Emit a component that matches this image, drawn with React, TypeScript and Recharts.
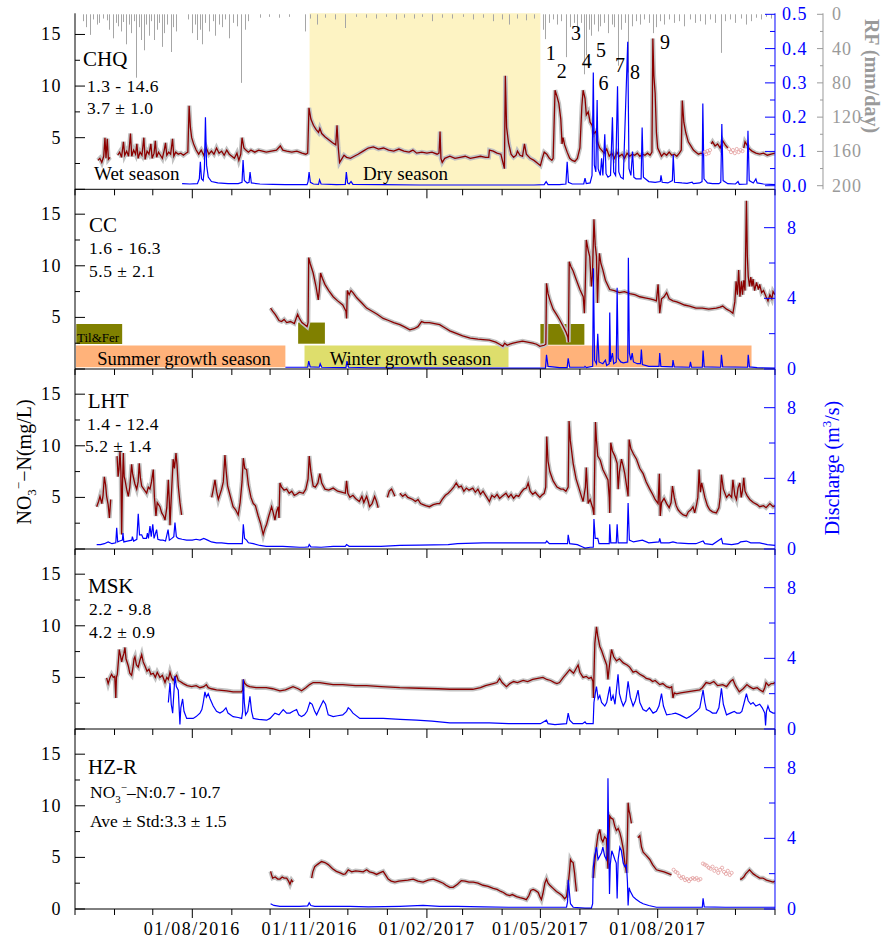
import React from 'react'
import { ComposedChart, Line, Bar, XAxis, YAxis, ReferenceArea } from 'recharts'

type P = [number, number | null]

// day 0 = 01/05/2016, day 549 = 01/11/2017
const monthTicks = [0, 31, 61, 92, 123, 153, 184, 214, 245, 276, 304, 335, 365, 396, 426, 457, 488, 518, 549]
const labelDays = [92, 184, 276, 365, 457]
const labelTexts = ['01/08/2016', '01/11/2016', '01/02/2017', '01/05/2017', '01/08/2017']
const leftTicks = [0, 2.5, 5, 7.5, 10, 12.5, 15]
const qTicks = [0, 2, 4, 6, 8]
const q1Ticks = [0, 0.05, 0.1, 0.15, 0.2, 0.25, 0.3, 0.35, 0.4, 0.45, 0.5]
const rfTicks = [0, 20, 40, 60, 80, 100, 120, 140, 160, 180, 200]

// daily rainfall (mm/day), only rain days
const rain: P[] = [
  [6, 8], [9, 15], [12, 24], [14, 6], [17, 12], [19, 10], [22, 5], [25, 7], [27, 18], [30, 28], [32, 10], [34, 14],
  [36, 20], [38, 9], [40, 35], [42, 12], [44, 22], [46, 8], [48, 74], [50, 15], [52, 30], [54, 42], [56, 12], [58, 25],
  [60, 8], [62, 30], [64, 18], [66, 10], [68, 38], [70, 22], [72, 12], [75, 44], [77, 15], [79, 20],
  [89, 6], [92, 22], [94, 12], [96, 30], [98, 18], [100, 35], [102, 10], [105, 20], [108, 8], [110, 25], [113, 12],
  [115, 15], [118, 6], [121, 28], [124, 10], [127, 14], [130, 80], [133, 18], [136, 8], [145, 4], [152, 3], [160, 4], [168, 3],
  [180, 20], [184, 5], [190, 12], [196, 4], [204, 6], [212, 16], [220, 3], [228, 4], [236, 5], [244, 3], [252, 6], [258, 4],
  [266, 5], [272, 3], [280, 8], [288, 4], [296, 5], [304, 3], [312, 6], [320, 4], [328, 8], [335, 6], [340, 12], [347, 5],
  [354, 7], [360, 5],
  [367, 18], [369, 29], [372, 10], [375, 6], [378, 12], [381, 8], [385, 50], [388, 15], [391, 10], [394, 20], [397, 10],
  [399, 70], [401, 48], [403, 18], [405, 25], [407, 12], [410, 20], [412, 14], [415, 10], [418, 22], [421, 12], [423, 15],
  [426, 60], [428, 18], [431, 10], [434, 68], [437, 14], [440, 8], [443, 12], [446, 6], [450, 10], [453, 22], [456, 15],
  [459, 8], [462, 12], [466, 6], [470, 10], [474, 8], [478, 14], [482, 6], [486, 10], [490, 8], [494, 12], [498, 6],
  [502, 10], [507, 45], [510, 8], [514, 6], [518, 10], [522, 5], [526, 12], [530, 8], [534, 4], [538, 6], [542, 3], [546, 5],
]

const chqNo3: P[] = [
  [18, 2.8], [19.5, 3.0], [21, 2.6], [22.5, 3.2], [23.5, 5.0], [24.3, 3.0], [25.3, 4.9], [26.2, 2.9], [27.5, 3.1], [28.5, null],
  [33.5, 3.3], [35, 3.6], [36.5, 3.1], [38, 4.6], [39, 3.3], [40.5, 3.7], [42, 3.2], [43.5, 5.4], [44.5, 3.2], [46, 3.8],
  [47.5, 3.4], [48.5, 4.4], [49.5, 3.0], [51, 3.6], [52.5, 3.3], [54, 5.0], [55, 2.9], [56.5, 3.7], [58, 3.4], [59.5, 4.4],
  [60.5, 3.0], [62, 3.5], [63, 4.7], [64, 3.1], [65.5, 3.6], [67, 3.3], [68.5, 3.0], [70, 3.8], [71, 4.5], [72, 3.3],
  [73.5, 3.6], [75, 3.4], [76.5, 4.9], [77.5, 3.2], [79, 3.6], [81, 3.4], [83, 3.5], [85, 3.3], [87, 3.5], [88.5, 3.6],
  [89.5, 8.1], [90.5, 6.0], [91.5, 5.0], [93, 4.4], [95, 3.8], [97, 3.4], [99, 3.8], [101, 3.3], [103, 4.0], [105, 3.4],
  [107, 3.7], [109, 3.4], [111, 4.0], [113, 3.5], [115, 3.7], [117, 3.3], [119, 3.8], [121, 3.4], [123, 3.2], [125, 3.0],
  [127, 3.5], [128.5, 2.8], [130, 3.4], [131, 5.0], [132.5, 4.0], [134, 3.8], [136, 3.6], [138, 3.8], [141, 3.6], [144, 3.8],
  [147, 3.7], [150, 3.6], [154, 3.7], [158, 3.8], [161, 4.2], [163, 3.8], [166, 3.7], [170, 3.6], [174, 3.7], [178, 3.5],
  [181, 3.4], [182.5, 3.5], [183.5, 7.9], [185, 6.8], [187, 6.2], [189, 5.8], [191, 5.5], [192, 5.9], [193.5, 5.4], [196, 5.1],
  [199, 4.8], [202, 4.5], [204.5, 4.3], [205.5, 6.2], [206.5, 4.0], [207.5, 2.6], [209, 2.9], [211, 3.3], [213, 3.1], [216, 3.0],
  [219, 3.2], [222, 3.4], [226, 3.7], [230, 4.0], [234, 4.1], [238, 3.9], [242, 4.0], [246, 3.8], [250, 3.7], [254, 3.9],
  [258, 3.7], [262, 3.6], [265, 3.8], [268, 3.5], [272, 3.6], [276, 3.5], [280, 3.6], [284, 3.4], [285.5, 3.5], [286.3, 5.6],
  [287, 3.0], [288, 2.6], [290, 3.0], [294, 3.2], [298, 3.0], [302, 3.1], [306, 3.2], [310, 3.0], [314, 3.1], [318, 3.2],
  [322, 3.1], [324.5, 3.1], [325, 3.8], [328, 3.7], [331, 3.5], [334, 3.4], [336, 2.4], [336.8, 2.0], [337.5, 11.0], [338.5, 6.0],
  [340, 4.5], [342, 3.4], [344, 3.1], [346, 3.3], [347, 3.7], [349, 3.3], [351, 3.2], [352.5, 4.4], [354, 3.4], [357, 3.0],
  [360, 2.8], [363, 2.5], [365, 2.3], [366.5, 3.0], [368, 3.6], [370, 3.4], [372, 3.0], [374, 2.8], [375, 3.0], [376.5, 9.6],
  [378, 9.0], [379.5, 8.3], [381, 6.8], [382, 4.4], [382.8, 5.0], [384, 4.3], [386, 3.6], [388, 3.0], [390, 2.8], [392, 2.7],
  [394, 3.0], [396, 4.0], [397.5, 8.0], [398.5, 9.6], [400, 8.8], [401, 7.2], [402.5, 7.5], [404, 6.5], [405.5, 6.2], [407, 5.4],
  [408.5, 5.6], [410, 4.5], [411.5, 4.0], [413, 3.8], [415, 3.5], [417, 3.9], [419, 3.2], [421, 3.5], [423, 3.0], [425, 3.6],
  [427, 3.2], [429, 3.4], [431, 3.0], [433, 3.5], [435, 3.2], [437, 3.4], [439, 3.3], [441, 3.5], [443, 3.2], [445, 3.4],
  [447, 3.3], [449, 3.5], [451, 3.3], [452.5, 3.6], [453.2, 14.6], [454, 11], [455, 9.3], [456, 5.5], [457, 4.0], [458.5, 3.6],
  [460, 3.2], [462, 3.5], [464, 3.3], [466, 3.6], [468, 3.3], [470, 3.4], [472, 3.2], [474, 3.5], [475.5, 3.8], [476.3, 8.6],
  [477.5, 6.5], [479, 5.5], [481, 4.6], [483, 4.2], [485, 3.8], [487, 3.6], [489, 3.4], [491, 3.5], [493, 3.4], [494, null],
  [499, 4.4], [500, 4.6], [502, 4.2], [504, 4.4], [506, 4.0], [508, 4.7], [510, 4.3], [512, 4.0], [513, null],
  [524.5, 4.0], [525.5, 4.6], [527, 4.3], [529, 3.9], [531, 3.7], [534, 3.5], [537, 3.4], [540, 3.5], [543, 3.3], [546, 3.4], [549, 3.5],
]
const chqPink: P[] = [
  [494, 3.6], [495, 3.4], [496, 3.7], [497, 3.5], [498, 3.8],
  [513, 3.9], [514.5, 3.6], [516, 3.8], [517.5, 3.5], [519, 3.9], [520.5, 3.6], [522, 3.8], [523.5, 3.7],
]
const chqQ: P[] = [
  [84, 0.006], [90, 0.005], [96, 0.006], [97.5, 0.02], [98.3, 0.07], [99.2, 0.02], [100.5, 0.015], [101.5, 0.05], [102.3, 0.2],
  [103.2, 0.06], [104.5, 0.025], [107, 0.012], [112, 0.008], [120, 0.006], [128, 0.006], [131, 0.01], [131.8, 0.075], [132.8, 0.015],
  [135, 0.008], [136.5, 0.01], [137.3, 0.04], [138.3, 0.008], [145, 0.005], [155, 0.004], [165, 0.003], [175, 0.003], [182, 0.003],
  [182.8, 0.012], [183.6, 0.04], [184.6, 0.01], [187, 0.005], [191, 0.004], [191.8, 0.017], [193, 0.005], [205, 0.003], [212, 0.004],
  [212.8, 0.04], [213.8, 0.008], [215, 0.005], [216.5, 0.012], [218, 0.004], [240, 0.003], [270, 0.002], [300, 0.002], [330, 0.002],
  [360, 0.002], [368, 0.003], [369.5, 0.012], [371, 0.003], [380, 0.003], [385, 0.005], [386, 0.07], [387, 0.01], [390, 0.005],
  [399, 0.005], [400, 0.022], [401, 0.006], [404, 0.008], [405.5, 0.03], [406.5, 0.33], [407.3, 0.06], [408.5, 0.04], [409.5, 0.25],
  [410.3, 0.05], [412, 0.03], [413, 0.08], [414, 0.03], [415.5, 0.15], [416.5, 0.035], [418, 0.025], [420, 0.03], [421.5, 0.2],
  [422.5, 0.04], [424, 0.03], [425.5, 0.29], [426.5, 0.04], [428, 0.025], [430, 0.02], [433.5, 0.42], [434.5, 0.05], [436, 0.03],
  [437.3, 0.1], [438.3, 0.025], [440, 0.02], [444, 0.02], [444.8, 0.17], [445.8, 0.025], [450, 0.012], [455, 0.01], [459, 0.012],
  [459.6, 0.03], [460.5, 0.01], [465, 0.008], [468.5, 0.015], [469.2, 0.09], [470.2, 0.01], [476, 0.008], [480, 0.007], [484, 0.01],
  [485, 0.006], [490, 0.008], [491.8, 0.012], [492.4, 0.24], [493.3, 0.02], [496, 0.008], [500, 0.006], [505, 0.006], [506.5, 0.01],
  [507.3, 0.18], [508.3, 0.015], [512, 0.006], [518, 0.005], [520, 0.012], [521, 0.004], [527, 0.005], [527.8, 0.16], [528.8, 0.015],
  [532, 0.008], [534, 0.02], [535, 0.008], [540, 0.005], [549, 0.003],
]

const ccNo3: P[] = [
  [153.4, 5.9], [155, 5.6], [157, 5.3], [158.5, 5.0], [160, 4.7], [162, 4.6], [164, 4.8], [166, 4.5], [169, 4.6], [172, 4.4],
  [174.6, 5.3], [176, 4.9], [178, 4.5], [180, 4.3], [182, 4.1], [182.8, 4.5], [183.3, 10.8], [184.5, 10.2], [186.8, 9.3], [189, 8.0],
  [190.8, 6.7], [191.5, 7.5], [192.6, 9.3], [194, 8.8], [196, 8.2], [199, 7.6], [202.5, 7.0], [206, 6.6], [210, 6.2], [212.5, 5.6],
  [213, 4.9], [213.6, 7.6], [215, 7.2], [216.5, 7.6], [218, 7.4], [221, 6.9], [225, 6.4], [228.7, 5.9], [233, 5.6], [237, 5.3],
  [241.7, 4.9], [246, 4.7], [250, 4.5], [254.8, 4.3], [258, 4.1], [262.6, 3.8], [266, 3.9], [269, 4.1], [271.8, 4.6], [274, 4.5],
  [278, 4.5], [282, 4.4], [286, 4.3], [290, 4.0], [294, 3.7], [298, 3.5], [304, 3.2], [310, 3.0], [316, 2.9], [320, 2.85],
  [325, 2.8], [330, 2.6], [333, 2.4], [335.6, 2.2], [337, 2.5], [339, 2.3], [341, 2.4], [343.6, 2.5], [347, 2.6], [351, 2.7],
  [355, 2.6], [359, 2.5], [362, 2.4], [364.6, 2.2], [368, 2.3], [369.3, 2.4], [369.8, 8.3], [371, 7.3], [372.4, 6.7], [375, 5.8],
  [377.6, 5.3], [380, 4.8], [383, 4.1], [385, 3.6], [386.5, 3.1], [387, 2.6], [387.6, 10.4], [389, 9.9], [390.7, 9.5], [393, 8.7],
  [396, 7.7], [398.6, 7.0], [399.5, 5.4], [400.2, 8.0], [401, 12.5], [402.5, 11.5], [403.7, 10.9], [405, 8.0], [405.8, 9.0], [407, 14.5],
  [408, 12.0], [409, 10.9], [409.8, 6.4], [410.5, 9.0], [411.3, 11.2], [412.5, 10.2], [414, 9.6], [416, 8.6], [419.4, 7.7], [423, 7.6],
  [427, 7.4], [431, 7.5], [435, 7.3], [439, 7.2], [443, 7.0], [447, 6.9], [451, 6.8], [454, 6.7], [456, 6.6], [457.3, 8.2],
  [458.6, 5.4], [460, 6.8], [462, 7.0], [464, 7.4], [466, 6.8], [469, 6.6], [472, 6.5], [474, 6.4], [478, 6.2], [482, 6.1],
  [487, 5.9], [492, 5.9], [497, 5.8], [503, 5.9], [506, 6.0], [508, 6.1], [511, 5.8], [514, 5.6], [516, 5.4], [517.5, 6.5],
  [518.5, 8.5], [519.5, 7.2], [520.5, 9.6], [521.5, 7.0], [522.7, 8.5], [523.5, 7.2], [524.5, 8.6], [525.5, 7.6], [526.6, 16.3], [527.3, 11],
  [528, 9.0], [529, 8.0], [530, 8.9], [531, 8.0], [531.8, 8.7], [533, 7.6], [534.5, 8.4], [536, 7.7], [537, 8.2], [538.5, 7.4],
  [540, 7.6], [542, 7.0], [543.5, 6.6], [545, 7.2], [546.5, 6.8], [547.5, 7.5], [549, 7.2],
]
const ccQ: P[] = [
  [165, 0.1], [175, 0.1], [182.5, 0.1], [183.3, 0.45], [184.5, 0.12], [191.5, 0.1], [192.3, 0.3], [193.5, 0.1], [212.5, 0.08],
  [213.3, 0.45], [214.5, 0.1], [230, 0.07], [260, 0.06], [300, 0.05], [340, 0.05], [369, 0.05], [369.8, 0.8], [371, 0.15], [380, 0.08],
  [386, 0.08], [386.8, 0.6], [388, 0.1], [399.5, 0.1], [400, 0.15], [401, 0.08], [406, 0.15], [406.6, 5.7], [407.5, 0.5], [409, 0.3],
  [410, 2.0], [411, 0.4], [414, 0.3], [416, 0.5], [417, 0.2], [419, 0.3], [419.4, 3.2], [420, 0.4], [421.5, 0.9], [422.5, 0.3],
  [424.5, 0.4], [425.2, 4.6], [426, 0.6], [428, 0.4], [430, 0.35], [433.5, 0.4], [434, 6.3], [434.8, 0.9], [436, 0.5], [437, 0.9],
  [438, 0.4], [441, 0.3], [443.5, 0.3], [444.2, 1.1], [445, 0.25], [450, 0.15], [458, 0.15], [458.6, 0.9], [459.5, 0.15], [468.5, 0.12],
  [469, 0.5], [470, 0.12], [482, 0.1], [482.7, 0.4], [483.5, 0.1], [492, 0.1], [492.6, 1.05], [493.5, 0.12], [506.4, 0.1], [507, 0.8],
  [508, 0.12], [527.5, 0.1], [528, 0.8], [529, 0.12], [535, 0.08], [549, 0.05],
]

const lhtNo3: P[] = [
  [17, 4.1], [18.5, 4.6], [19.6, 5.1], [21, 4.4], [22, 5.2], [23, 7.0], [24, 6.2], [24.8, 5.1], [26, 4.3], [27, 3.0], [28, 4.8], [28.8, null],
  [33, 9.0], [33.8, 7.0], [34.5, 7.7], [35.3, 9.5], [36, 7.5], [36.6, 1.4], [37.2, 6.0], [37.9, 9.3], [38.6, 7.0], [39.2, 6.7],
  [40.5, 5.8], [41.8, 5.1], [43, 6.0], [44.4, 8.2], [45.2, 7.3], [45.7, 7.0], [47, 6.3], [48.4, 5.8], [49.5, 6.5], [50.4, 8.3],
  [51.3, 6.9], [52.3, 6.1], [54, 5.8], [56.2, 5.4], [57.5, 6.0], [58.8, 5.8], [60, 6.5], [61.4, 7.7], [62.3, 5.0], [63.5, 3.2],
  [64.5, 4.5], [66.6, 4.1], [68, 3.5], [69.5, 3.2], [70.6, 2.8], [72, 4.0], [73.2, 6.7], [74, 4.5], [74.5, 2.3], [75.5, 5.0],
  [77, 8.7], [78, 7.8], [79.2, 9.3], [80, 8.2], [81, 6.1], [82.3, 4.5], [83.6, 3.3], [84, null],
  [107.2, 5.0], [108.5, 5.8], [109.8, 6.7], [111, 5.6], [112.4, 4.8], [113.7, 5.3], [115, 5.8], [116.3, 6.5], [117.6, 9.1], [118.6, 7.5],
  [119.7, 6.1], [121, 5.5], [122.5, 4.8], [124, 4.1], [126, 3.8], [128, 3.3], [129.5, 4.5], [131, 6.5], [132, 8.8], [133.2, 7.8],
  [134.6, 7.7], [136, 6.2], [138, 5.0], [139.8, 4.4], [141.5, 4.2], [143.7, 3.2], [145.5, 2.5], [147.6, 1.4], [149, 2.0], [150.3, 2.4],
  [152, 3.2], [154.2, 4.1], [155.5, 3.5], [156.8, 2.8], [158, 3.6], [159.4, 4.1], [160, 3.0], [160.7, 6.4], [162, 6.0], [164, 5.7],
  [166, 5.8], [168, 5.4], [170, 5.6], [172, 5.2], [173.8, 5.3], [176, 5.5], [179, 5.4], [181, 5.8], [182.8, 6.8], [183.7, 9.0],
  [185, 7.5], [186.8, 6.1], [188.5, 6.0], [190.5, 6.4], [192, 7.3], [193.5, 6.4], [196, 5.8], [199, 5.7], [202.5, 5.9], [206, 5.6],
  [209, 5.5], [212, 5.4], [213, 6.6], [214, 5.4], [215.6, 5.0], [218, 5.2], [220, 4.9], [223, 4.6], [225, 5.1], [226.5, 4.5],
  [228.7, 5.1], [230, 4.6], [231, 4.1], [233, 4.4], [235, 5.1], [236.5, 4.6], [237.8, 4.0], [238.5, null],
  [245, 5.0], [246.5, 5.6], [248.3, 5.8], [249.5, 5.5], [250.9, 5.1], [251.5, null],
  [254.8, 5.4], [257, 5.1], [259, 5.3], [261, 5.0], [263, 4.9], [265, 4.8], [267, 4.6], [269, 4.8], [271, 4.4], [273, 4.3],
  [275, 4.2], [278, 4.1], [281, 4.3], [284, 4.4], [286, 4.4], [288, 4.8], [290.5, 5.2], [292.7, 5.4], [295, 5.7], [297, 6.0],
  [299, 6.4], [301, 6.0], [303, 6.1], [305, 5.6], [307, 5.9], [309, 5.7], [312, 5.9], [314, 5.5], [316, 5.8], [318, 5.3],
  [320, 5.6], [322, 5.2], [323.5, 4.9], [325, 4.6], [327, 5.2], [329, 5.0], [331, 5.3], [333, 4.9], [335, 5.1], [338, 5.4],
  [340, 5.0], [342, 5.3], [344, 4.9], [346, 5.2], [348, 5.1], [350, 5.5], [352, 5.8], [354, 5.9], [355.4, 6.4], [357, 5.6],
  [359, 5.3], [361, 5.5], [363, 5.2], [364.6, 5.0], [366, 5.2], [368, 5.4], [369.2, 6.0], [370, 10.9], [371, 8.5], [372.4, 7.5],
  [375, 6.6], [378, 6.0], [381, 5.8], [383, 5.8], [385, 5.6], [386.8, 6.0], [387.5, 12.4], [388.5, 10.5], [390.7, 8.3], [393, 6.8],
  [395, 6.0], [397.2, 5.1], [398.5, 4.6], [400.3, 6.0], [401, 7.9], [402.5, 4.4], [404, 4.8], [406, 4.0], [407, 3.3], [407.6, 8.0],
  [408.2, 12.3], [409, 10.5], [410, 9.0], [412, 8.6], [414, 7.7], [416, 7.2], [418, 6.7], [419, 5.0], [419.4, 3.5], [420.2, 10.3],
  [421.5, 9.5], [423.4, 9.0], [425.2, 8.3], [426, 5.8], [427, 7.5], [428.6, 8.7], [430, 8.0], [431.2, 7.3], [432.5, 6.2], [433.8, 5.1],
  [434.6, 10.6], [436, 9.7], [438, 9.2], [440.4, 8.7], [443, 7.8], [445.6, 7.3], [448, 6.5], [450.8, 5.8], [453, 5.3], [455, 4.8],
  [457.3, 4.4], [458.3, 7.3], [459, 3.2], [460, 4.5], [462, 4.9], [464, 4.4], [466, 4.0], [467.5, 4.5], [468.6, 6.1], [470, 5.0],
  [471.5, 4.2], [473, 3.8], [475, 3.5], [477, 3.3], [479.5, 3.2], [481, 3.6], [483, 3.8], [484.7, 4.1], [486, 3.5], [487.5, 4.3],
  [488.5, 5.0], [489.5, 7.7], [490.5, 5.5], [491.5, 6.4], [492.6, 5.8], [494, 5.0], [496, 4.2], [497.8, 3.8], [500, 3.6], [503, 3.5],
  [505, 4.0], [506, 5.0], [507, 7.2], [508.5, 5.8], [511, 5.0], [513, 5.3], [515, 5.0], [516, 6.7], [517.5, 5.2], [518.8, 4.8],
  [520, 5.9], [521.4, 6.4], [522.5, 5.0], [523.5, 5.6], [524.5, 6.9], [525.5, 5.6], [527, 5.2], [529.2, 4.8], [532, 4.5], [535, 4.3],
  [537, 4.1], [540, 4.2], [542, 4.0], [545, 4.4], [547.5, 4.1], [549, 4.2],
]
const lhtQ: P[] = [
  [17, 0.25], [20, 0.25], [23, 0.3], [26, 0.4], [29, 0.3], [32, 0.35], [32.7, 1.2], [33.5, 0.4], [35, 0.45], [37.2, 0.5], [37.6, 0.9],
  [38.3, 0.4], [41, 0.45], [44.5, 0.5], [45, 0.7], [46, 0.45], [48.5, 0.55], [49.6, 2.0], [50.6, 0.8], [52.3, 0.8], [53.5, 0.6],
  [56, 0.6], [56.8, 0.9], [57.6, 0.6], [58.8, 1.3], [59.8, 0.7], [61, 1.4], [62, 0.6], [64, 1.1], [65, 0.55], [67, 0.5], [69, 0.5],
  [71, 0.45], [73, 1.1], [74, 0.5], [76, 0.6], [77.5, 0.7], [78.4, 1.5], [79.5, 0.7], [81, 0.6], [84, 0.55], [87.5, 0.5], [92, 0.5],
  [95, 0.55], [98, 0.5], [101, 0.6], [104, 0.5], [107, 0.4], [111, 0.35], [115, 0.35], [120, 0.3], [124, 0.3], [128, 0.3], [131.2, 0.3],
  [132, 1.4], [133, 0.6], [134.6, 0.5], [136, 0.35], [139.8, 0.3], [145, 0.2], [150, 0.15], [156, 0.15], [163, 0.15], [170, 0.12],
  [176, 0.1], [180, 0.1], [183, 0.12], [183.7, 0.25], [185, 0.12], [193, 0.1], [202.5, 0.15], [212, 0.15], [213, 0.25], [215, 0.15],
  [222, 0.15], [228.7, 0.15], [240, 0.15], [254.8, 0.2], [270, 0.22], [292.7, 0.25], [300, 0.3], [320, 0.35], [340, 0.35], [360, 0.35],
  [369, 0.35], [370, 0.45], [372, 0.3], [380, 0.3], [386.3, 0.3], [386.8, 0.8], [388, 0.3], [394, 0.25], [398.6, 0.1], [400, 0.05],
  [404, 0.1], [406.5, 0.1], [407, 1.7], [408, 0.6], [410, 0.6], [411, 0.3], [416, 0.3], [419, 0.3], [419.4, 1.4], [420.2, 0.35],
  [424.5, 0.35], [425.2, 1.4], [426, 0.35], [433, 0.35], [433.8, 2.6], [434.8, 0.5], [438, 0.4], [445, 0.5], [450, 0.35], [458, 0.4],
  [458.6, 0.6], [459.5, 0.35], [466, 0.35], [469, 0.4], [472, 0.35], [481, 0.3], [487, 0.3], [492.6, 0.45], [494, 0.3], [500, 0.25],
  [507, 0.6], [508, 0.3], [515, 0.25], [520, 0.3], [522, 0.4], [526.6, 0.45], [530, 0.35], [537, 0.35], [543, 0.25], [549, 0.2],
]

const mskNo3: P[] = [
  [24.8, 4.95], [26, 4.4], [27.5, 5.0], [28.7, 5.3], [30, 5.0], [31.2, 5.1], [32, 3.0], [32.5, 5.0], [33.2, 5.3], [34, 6.5],
  [34.7, 7.7], [35.5, 7.2], [36.6, 6.5], [37.5, 7.0], [38.3, 7.3], [39.2, 7.9], [40, 6.8], [41.8, 6.1], [43, 5.4], [44.4, 5.2],
  [45.5, 6.0], [46.3, 6.8], [47, 7.0], [48.2, 6.2], [49.6, 6.0], [50.8, 6.6], [52.3, 7.2], [53.5, 6.5], [54.9, 6.1], [56.5, 5.6],
  [58, 5.8], [59.5, 5.3], [61.4, 5.4], [63, 5.0], [64.5, 5.5], [66.6, 5.0], [68.5, 5.2], [70.6, 4.5], [72, 5.0], [73.2, 4.8],
  [74.5, 5.5], [75.7, 5.0], [77, 4.7], [78.3, 5.0], [79.7, 5.2], [81, 4.7], [82.5, 4.6], [85, 4.4], [88, 4.2], [91.5, 4.1],
  [95, 4.2], [98, 4.0], [101, 4.1], [103, 4.3], [104.5, 4.0], [107, 3.9], [111, 3.8], [115, 3.75], [119, 3.7], [124, 3.6],
  [128, 3.6], [130.7, 3.6], [131.5, 3.8], [132, 4.8], [133.2, 4.4], [135, 4.2], [137, 4.1], [142, 4.0], [150, 4.0], [155, 3.9],
  [160.7, 3.7], [165, 3.8], [171, 4.1], [175, 3.9], [177.7, 3.7], [181, 4.0], [184, 4.3], [186.8, 4.5], [192, 4.5], [197, 4.4],
  [202.5, 4.3], [210, 4.3], [220, 4.2], [228.7, 4.2], [240, 4.1], [254.8, 4.0], [270, 3.95], [285, 3.9], [294, 3.85], [305, 3.85],
  [312, 3.85], [318, 4.0], [322, 4.2], [325, 4.3], [328, 4.4], [331, 4.5], [333, 4.9], [335, 4.5], [338.4, 4.1], [341, 4.4],
  [344, 4.6], [347, 4.5], [351.5, 4.7], [355, 4.6], [359, 4.8], [363, 4.9], [367, 5.0], [370, 4.8], [373, 4.7], [376, 4.5],
  [378, 4.4], [380, 4.5], [383, 5.0], [385, 5.3], [388, 5.75], [391, 5.4], [394.6, 6.2], [396, 5.5], [398.5, 5.0], [401, 5.1],
  [403, 4.9], [405, 5.0], [406.2, 4.6], [406.6, 3.0], [407.3, 6.5], [407.7, 8.3], [409, 9.9], [410, 9.0], [411.6, 8.0], [413, 7.6],
  [415.5, 6.7], [417, 6.2], [418, 4.8], [419, 6.0], [420.8, 7.7], [422.5, 7.0], [424.7, 6.6], [427, 6.8], [430, 6.4], [433, 6.2],
  [435, 6.0], [437.7, 5.5], [440, 5.6], [443, 5.3], [446, 5.1], [448, 4.9], [451, 4.8], [453, 4.6], [455, 4.7], [458.6, 4.3],
  [461, 4.4], [464, 4.1], [466.5, 4.0], [468, 4.1], [469, 3.0], [470, 3.5], [471.7, 3.4], [475, 3.5], [480, 3.6], [485, 3.7],
  [490, 3.8], [492, 4.0], [495, 4.5], [498, 4.4], [501, 4.6], [504, 4.2], [508, 4.3], [511, 4.1], [514, 4.6], [516, 4.8],
  [518, 4.2], [521, 3.6], [524, 3.9], [527, 4.3], [529, 4.1], [532, 3.9], [535, 4.0], [537, 3.8], [539.6, 3.6], [541, 4.0],
  [542, 4.5], [544, 4.2], [546, 4.4], [547.5, 4.4], [549, 4.5],
]
const mskQ: P[] = [
  [73.2, 1.5], [74.5, 2.6], [75.5, 1.4], [76.6, 0.9], [77.5, 2.0], [78.4, 3.0], [79.5, 2.4], [81, 2.2], [81.8, 1.0], [82.3, 0.25],
  [83, 1.2], [84.4, 1.7], [85.5, 1.0], [87.6, 0.6], [90, 0.6], [92.7, 0.6], [95, 0.7], [98, 0.9], [99.5, 1.1], [100.6, 1.5],
  [101.9, 2.1], [103, 1.8], [104.5, 2.0], [106, 1.7], [108.4, 1.3], [111, 1.0], [113.7, 0.9], [116, 1.0], [118.4, 1.2], [120, 0.9],
  [124, 0.7], [128, 0.65], [130.7, 0.6], [131.5, 1.0], [132, 2.8], [132.8, 1.5], [133.8, 0.8], [135.5, 1.0], [137.2, 1.85], [138.5, 1.0],
  [139.8, 0.6], [144, 0.55], [150.3, 0.5], [153, 0.6], [156.8, 0.9], [160, 0.8], [163.3, 1.1], [166, 0.9], [168.6, 0.9], [171, 1.0],
  [173.8, 1.1], [175.5, 0.8], [177.7, 0.7], [180, 0.8], [182, 1.0], [184.2, 1.5], [186, 1.4], [188, 1.0], [189.5, 0.8], [192, 1.2],
  [194.7, 1.6], [196.5, 1.4], [198.6, 0.8], [202.5, 0.7], [206, 0.75], [210, 0.8], [213, 1.0], [214.3, 1.2], [216, 1.1], [218, 0.9],
  [223.4, 0.6], [230, 0.6], [241.7, 0.6], [255, 0.55], [267.9, 0.5], [280, 0.45], [294, 0.35], [310, 0.35], [325, 0.35], [340, 0.3],
  [355, 0.3], [365, 0.3], [369.8, 0.5], [371, 0.3], [376.4, 0.25], [385.5, 0.3], [386.8, 0.9], [388, 0.5], [390.7, 0.3], [398, 0.3],
  [400, 0.4], [401, 0.3], [406.4, 0.3], [407, 1.5], [408, 2.0], [409, 2.4], [410.3, 1.7], [411.6, 1.9], [413, 1.5], [415.5, 1.3],
  [417, 1.5], [419.4, 2.4], [420.5, 1.6], [422, 1.9], [423.5, 1.4], [425.9, 3.1], [427, 2.0], [428.5, 1.6], [430, 1.3], [432, 1.6],
  [433.8, 2.7], [435.5, 1.8], [437.7, 1.3], [439.5, 1.6], [441.6, 2.2], [443, 1.5], [445.5, 1.1], [448, 1.0], [450.5, 1.2], [453.4, 0.9],
  [456, 1.0], [458, 1.3], [460, 2.0], [461.5, 1.3], [464, 0.8], [468, 0.85], [471, 0.9], [474.4, 0.8], [477, 0.7], [479.6, 0.6],
  [482, 0.7], [484, 0.8], [487.4, 1.0], [490, 1.2], [492.6, 2.2], [494, 1.5], [495.2, 1.1], [498, 1.0], [500, 0.9], [503, 0.9],
  [505, 1.2], [507, 2.3], [508.5, 1.4], [511, 0.8], [514, 0.9], [517, 1.0], [519, 0.9], [521.4, 0.9], [523, 1.0], [524.5, 1.4],
  [526.6, 2.0], [528, 1.6], [530, 1.4], [531.8, 1.5], [534, 1.3], [537, 1.4], [539, 1.2], [541, 0.9], [541.6, 0.2], [542.3, 1.0],
  [543.5, 1.3], [545, 1.0], [547.5, 0.9], [549, 0.9],
]

const hzNo3: P[] = [
  [153.4, 3.65], [154.2, 3.3], [155, 3.0], [157, 3.1], [159, 2.9], [160.7, 2.9], [162.5, 3.1], [164, 3.0], [166, 3.0], [167.5, 2.7],
  [168.6, 2.4], [169.8, 2.8], [171, 2.6], [171.5, null],
  [185.6, 3.0], [186.5, 3.6], [188, 4.1], [190, 4.3], [193.4, 4.6], [196, 4.5], [198.6, 4.3], [202, 3.9], [205, 3.65], [208, 3.5],
  [210.4, 3.35], [212, 3.4], [214.3, 3.8], [217, 3.6], [220, 3.7], [223.4, 3.65], [226, 3.6], [228.7, 3.8], [231, 3.6], [234, 3.5],
  [236.5, 3.35], [239, 3.5], [241.7, 3.65], [243.5, 3.3], [245.6, 2.9], [248, 2.7], [250.9, 2.6], [254, 2.7], [257.4, 2.75], [261, 2.8],
  [265.2, 2.9], [269, 2.7], [273, 2.6], [277, 2.8], [281, 2.9], [285, 2.7], [288.8, 2.5], [291, 2.3], [294, 2.1], [296.6, 2.1],
  [300, 2.4], [303, 2.75], [306, 2.7], [309, 2.6], [312.3, 2.6], [316, 2.5], [320, 2.3], [324, 2.2], [328, 2.0], [331, 1.9],
  [334, 1.7], [336, 1.6], [338.4, 1.4], [341, 1.3], [343, 1.4], [346.3, 1.2], [349, 1.1], [352, 1.0], [354, 0.9], [356, 1.3],
  [357.5, 1.8], [359.3, 1.9], [361, 1.8], [363.3, 1.6], [364.6, 1.2], [365.8, 0.9], [367, 1.5], [368.5, 2.5], [369.8, 2.9], [371, 2.5],
  [372.4, 2.3], [375, 2.0], [377.6, 1.7], [380, 1.5], [382, 1.3], [384, 1.0], [385.5, 1.2], [386.8, 2.4], [387.8, 3.6], [388.6, 4.8],
  [389.5, 4.6], [390.7, 4.5], [391.8, 3.5], [392.5, 2.6], [393.3, 1.7], [393.8, null],
  [406.6, 3.0], [407, 3.65], [408, 5.0], [409, 6.1], [410.2, 7.2], [411.6, 7.7], [412.8, 6.8], [414, 6.5], [415.4, 7.0], [416.8, 6.8],
  [417.5, 5.0], [418, 3.9], [418.6, 6.5], [419.4, 9.0], [420.5, 8.8], [422, 8.7], [423.4, 8.0], [424.6, 7.6], [426, 7.8], [427.3, 7.4],
  [428.5, 6.8], [430, 5.8], [431.2, 4.5], [432.5, 3.5], [433.2, 6.5], [433.8, 10.3], [434.5, 9.5], [435, 9.3], [436.4, 8.3], [437, null],
  [441.5, 6.9], [443, 7.1], [444.3, 6.0], [445.6, 5.5], [448, 5.2], [450.8, 4.8], [453, 4.3], [456, 3.8], [459, 3.7], [462, 3.6],
  [464, 3.5], [466, 3.4], [467.8, 3.3], [468.5, null],
  [521.5, 2.9], [522.7, 2.9], [524.5, 3.1], [526, 3.4], [527.5, 3.6], [529, 3.8], [530.5, 3.6], [532, 3.4], [534.4, 3.2], [537, 3.0],
  [539.5, 3.0], [542.3, 2.8], [545, 2.7], [547.5, 2.6], [549, 2.7],
]
const hzPink: P[] = [
  [469.5, 3.8], [471, 3.6], [472.5, 3.5], [474, 3.2], [475.5, 3.0], [477, 3.1], [478.5, 2.8], [480, 2.9], [481.5, 2.7], [483, 2.9],
  [484.5, 3.0], [486, 2.9], [487.5, 3.0], [489, 2.8], [490.5, 2.9],
  [492.5, 4.4], [494, 4.3], [495.5, 4.2], [497, 4.0], [498.5, 3.9], [500, 4.1], [501.5, 3.7], [503, 3.9], [504.5, 3.5], [506, 3.8],
  [507.5, 4.0], [509, 3.6], [510.5, 3.4], [512, 3.7], [513.5, 3.3], [515, 3.5],
]
const hzQ: P[] = [
  [153.4, 0.3], [156, 0.2], [160.7, 0.15], [170, 0.15], [176, 0.15], [182.5, 0.18], [183.7, 0.35], [185, 0.2], [188, 0.15], [200, 0.15],
  [215.6, 0.15], [230, 0.12], [254.8, 0.15], [273, 0.2], [286, 0.15], [300, 0.15], [320, 0.12], [340, 0.1], [364.6, 0.1], [380, 0.1],
  [385.5, 0.1], [386.3, 0.4], [386.8, 1.65], [387.8, 0.9], [388.6, 0.3], [390.7, 0.1], [400, 0.05], [405, 0.05], [406, 0.3], [406.4, 2.3],
  [407.5, 3.0], [409, 3.5], [410.2, 2.8], [411.6, 3.0], [413, 3.2], [414, 3.5], [415.4, 3.0], [416.8, 2.8], [417.6, 3.5], [418, 7.4],
  [418.6, 4.0], [419.2, 0.85], [419.8, 2.5], [421, 3.3], [422.5, 3.0], [423.4, 2.8], [424.5, 2.6], [425.2, 0.6], [426, 2.8], [427.3, 3.5],
  [428.5, 3.3], [430, 2.6], [431.2, 2.4], [432.5, 2.5], [433.3, 1.5], [433.8, 0.2], [434.6, 1.2], [435.5, 1.0], [437.7, 0.7], [440, 0.55],
  [443, 0.4], [445.6, 0.3], [450, 0.2], [456, 0.1], [470, 0.1], [485, 0.1], [492, 0.1], [492.6, 0.6], [493.5, 0.12], [510, 0.1],
  [530, 0.1], [549, 0.1],
]

const FONT = '"Liberation Serif", "Times New Roman", serif'
const BLUE = '#0000ff'
const RED = '#8b0000'
const BAND = '#c2c2c2'
const GRAY = '#9a9a9a'
const PANEL_H = 180
const lowerTops = [189.3, 369.3, 549.3, 729.3]

const toPts = (a: P[]) => a.map(([d, v]) => ({ d, v }))
// rainfall hangs from the top: plotted downward on an axis whose labels show |value|
const rainData = rain.map(([d, r]) => ({ d, r: -(r as number) }))
const rfAxisTicks = rfTicks.map((t) => -t)

// each rain day drawn as a 1px stroke across the bar rectangle Recharts computes
function RainStick(props: any) {
  const { x, y, width, height } = props
  if (x == null || y == null || height == null) return null
  const cx = Math.round(x + (width || 0) / 2) + 0.5
  return <line x1={cx} x2={cx} y1={y} y2={y + height} stroke="#a6a6a6" strokeWidth={1} />
}

function XTick(props: any) {
  const { x, y, payload, showLabel } = props
  const i = labelDays.indexOf(payload.value)
  const major = i >= 0
  return (
    <g>
      <line x1={x} x2={x} y1={y} y2={y + (major ? 9 : 6)} stroke="#000" />
      {showLabel && major && (
        <text x={x} y={y + 26} textAnchor="middle" fontSize={18} letterSpacing={1.5} fontFamily={FONT} fill="#000">
          {labelTexts[i]}
        </text>
      )}
    </g>
  )
}

function LeftTick(props: any) {
  const { x, y, payload, zero } = props
  const v = payload.value
  const major = v % 5 === 0
  return (
    <g>
      <line x1={x} x2={x + (major ? 10 : 5)} y1={y} y2={y} stroke="#000" />
      {major && (v !== 0 || zero) && (
        <text x={x - 13} y={y + 6} textAnchor="end" fontSize={18} letterSpacing={1.5} fontFamily={FONT} fill="#000">
          {v}
        </text>
      )}
    </g>
  )
}

function QTick(props: any) {
  const { x, y, payload } = props
  const v = payload.value
  const major = v % 4 === 0
  return (
    <g>
      <line x1={x} x2={x - (major ? 11 : 6)} y1={y} y2={y} stroke={BLUE} />
      {major && (
        <text x={x + 12} y={y + 6} fontSize={18} letterSpacing={1.5} fontFamily={FONT} fill={BLUE}>
          {v}
        </text>
      )}
    </g>
  )
}

function Q1Tick(props: any) {
  const { x, y, payload } = props
  const v = payload.value
  const major = Math.round(v * 100) % 10 === 0
  return (
    <g>
      <line x1={x} x2={x - (major ? 10 : 5)} y1={y} y2={y} stroke={BLUE} />
      {major && (
        <text x={x + 7} y={y + 6} fontSize={18} letterSpacing={1} fontFamily={FONT} fill={BLUE}>
          {v.toFixed(1)}
        </text>
      )}
    </g>
  )
}

function RfTick(props: any) {
  const { x, y, payload } = props
  const v = Math.abs(payload.value)
  const major = v % 40 === 0
  return (
    <g>
      <line x1={x} x2={x - (major ? 6 : 3)} y1={y} y2={y} stroke={GRAY} />
      {major && (
        <text x={x + 9} y={y + 6} fontSize={18} letterSpacing={1} fontFamily={FONT} fill={GRAY}>
          {v}
        </text>
      )}
    </g>
  )
}

function no3Lines(data: P[]) {
  const pts = toPts(data)
  return [
    <Line key="band" yAxisId="l" data={pts} dataKey="v" stroke={BAND} strokeWidth={4.5} dot={false} activeDot={false} isAnimationActive={false} />,
    <Line key="no3" yAxisId="l" data={pts} dataKey="v" stroke={RED} strokeWidth={1.3} dot={false} activeDot={false} isAnimationActive={false} />,
  ]
}

function pinkDots(data: P[]) {
  return (
    <Line
      key="pink"
      yAxisId="l"
      data={toPts(data)}
      dataKey="v"
      stroke="none"
      dot={{ r: 1.6, stroke: '#e3a0a0', strokeWidth: 0.8, fill: 'none' }}
      activeDot={false}
      isAnimationActive={false}
    />
  )
}

function TopPanel() {
  return (
    <div style={{ position: 'absolute', left: 0, top: 0 }}>
      <ComposedChart width={885} height={13.3 + 176 + 12} data={rainData} margin={{ top: 13.3, right: 0, bottom: 0, left: 0 }}>
        <XAxis dataKey="d" type="number" domain={[0, 549]} allowDataOverflow ticks={monthTicks} interval={0}
          tickSize={0} tickMargin={0} tick={(p: any) => <XTick {...p} />} height={12} stroke="#000" />
        <YAxis yAxisId="l" type="number" domain={[0, 17.05]} allowDataOverflow ticks={leftTicks} interval={0} width={75}
          tickSize={0} tickMargin={0} tick={(p: any) => <LeftTick {...p} />} stroke="#000" />
        <YAxis yAxisId="q" orientation="right" type="number" domain={[-0.0105, 0.503]} allowDataOverflow ticks={q1Ticks}
          interval={0} width={48} tickSize={0} tickMargin={0} tick={(p: any) => <Q1Tick {...p} />} stroke={BLUE} />
        <YAxis yAxisId="rf" orientation="right" type="number" domain={[-204.2, 1.17]} allowDataOverflow ticks={rfAxisTicks}
          interval={0} width={62} tickSize={0} tickMargin={0} tick={(p: any) => <RfTick {...p} />} stroke={GRAY} />
        <ReferenceArea yAxisId="l" x1={184} x2={365} y1={0} y2={17.05} fill="#fdf3c3" fillOpacity={1} stroke="none" />
        <Bar yAxisId="rf" dataKey="r" barSize={2} shape={(p: any) => <RainStick {...p} />} isAnimationActive={false} />
        {no3Lines(chqNo3)}
        {pinkDots(chqPink)}
        <Line yAxisId="q" data={toPts(chqQ)} dataKey="v" stroke={BLUE} strokeWidth={1.2} dot={false} activeDot={false} isAnimationActive={false} />
      </ComposedChart>
    </div>
  )
}

function LowerPanel(props: { idx: number; no3: P[]; q: P[]; pink?: P[]; areas?: React.ReactNode[] }) {
  const { idx, no3, q, pink, areas } = props
  const last = idx === 3
  const xh = last ? 32 : 12
  return (
    <div style={{ position: 'absolute', left: 0, top: lowerTops[idx] - 4 }}>
      <ComposedChart width={885} height={4 + PANEL_H + xh} margin={{ top: 4, right: 110, bottom: 0, left: 0 }}>
        <XAxis dataKey="d" type="number" domain={[0, 549]} allowDataOverflow ticks={monthTicks} interval={0}
          tickSize={0} tickMargin={0} tick={(p: any) => <XTick {...p} showLabel={last} />} height={xh} stroke="#000" />
        <YAxis yAxisId="l" type="number" domain={[0, 17.44]} allowDataOverflow ticks={leftTicks} interval={0} width={75}
          tickSize={0} tickMargin={0} tick={(p: any) => <LeftTick {...p} zero={last} />} stroke="#000" />
        <YAxis yAxisId="q" orientation="right" type="number" domain={[0, 10.19]} allowDataOverflow ticks={qTicks}
          interval={0} width={0.01} tickSize={0} tickMargin={0} tick={(p: any) => <QTick {...p} />} stroke={BLUE} />
        {areas}
        {no3Lines(no3)}
        {pink && pinkDots(pink)}
        <Line yAxisId="q" data={toPts(q)} dataKey="v" stroke={BLUE} strokeWidth={1.2} dot={false} activeDot={false} isAnimationActive={false} />
      </ComposedChart>
    </div>
  )
}

const ccAreas = [
  <ReferenceArea key="a1" yAxisId="l" x1={1} x2={37} y1={2.43} y2={4.37} fill="#808000" fillOpacity={1} stroke="none" />,
  <ReferenceArea key="a2" yAxisId="l" x1={175} x2={196} y1={2.45} y2={4.5} fill="#808000" fillOpacity={1} stroke="none" />,
  <ReferenceArea key="a3" yAxisId="l" x1={365} x2={399.5} y1={2.35} y2={4.37} fill="#808000" fillOpacity={1} stroke="none" />,
  <ReferenceArea key="s1" yAxisId="l" x1={0.8} x2={165} y1={0.16} y2={2.28} fill="#ffb27a" fillOpacity={1} stroke="none" />,
  <ReferenceArea key="w1" yAxisId="l" x1={180} x2={340} y1={0.16} y2={2.28} fill="#dede6c" fillOpacity={1} stroke="none" />,
  <ReferenceArea key="s2" yAxisId="l" x1={365} x2={530.6} y1={0.16} y2={2.28} fill="#ffb27a" fillOpacity={1} stroke="none" />,
]

function Overlay() {
  const t = (x: number, y: number, s: string, size = 17.5, extra: any = {}) => (
    <text x={x} y={y} fontSize={size} fontFamily={FONT} fill="#000" {...extra}>{s}</text>
  )
  const nums: [string, number, number][] = [
    ['1', 550.7, 60], ['2', 561.7, 78], ['3', 576, 40], ['4', 586.7, 68], ['5', 601, 57],
    ['6', 603.5, 90], ['7', 620, 72], ['8', 635, 79], ['9', 665, 49],
  ]
  return (
    <svg width={885} height={940} style={{ position: 'absolute', left: 0, top: 0, pointerEvents: 'none' }}>
      {t(83, 66, 'CHQ', 21)}
      {t(87, 91.5, '1.3 - 14.6', 17.5, { letterSpacing: 0.5 })}
      {t(87, 113.5, '3.7 ± 1.0', 17.5, { letterSpacing: 0.5 })}
      {t(94, 180, 'Wet season', 19)}
      {t(363, 180, 'Dry season', 19)}
      {nums.map(([s, x, y]) => (
        <text key={s} x={x} y={y} fontSize={20} fontFamily={FONT} textAnchor="middle" fill="#000">{s}</text>
      ))}

      {t(89, 231.7, 'CC', 21)}
      {t(89, 254, '1.6 - 16.3', 17.5, { letterSpacing: 0.5 })}
      {t(89, 276.7, '5.5 ± 2.1', 17.5, { letterSpacing: 0.5 })}
      {t(77, 342, 'Til&Fer', 13)}
      {t(184, 365, 'Summer growth season', 18.5, { textAnchor: 'middle' })}
      {t(410.5, 365, 'Winter growth season', 18.5, { textAnchor: 'middle' })}

      {t(87.7, 408.3, 'LHT', 21)}
      {t(87, 430, '1.4 - 12.4', 17.5, { letterSpacing: 0.5 })}
      {t(85, 452.3, '5.2 ± 1.4', 17.5, { letterSpacing: 0.5 })}

      {t(88, 592.7, 'MSK', 21)}
      {t(89, 615, '2.2 - 9.8', 17.5, { letterSpacing: 0.5 })}
      {t(89, 637.7, '4.2 ± 0.9', 17.5, { letterSpacing: 0.5 })}

      {t(88, 774.3, 'HZ-R', 21)}
      <text x={90} y={798.3} fontSize={17.5} fontFamily={FONT} fill="#000">
        NO<tspan fontSize={11} dy={5}>3</tspan>
        <tspan fontSize={11} dy={-12}>−</tspan>
        <tspan dy={7}>–N:0.7 - 10.7</tspan>
      </text>
      {t(90, 826.7, 'Ave ± Std:3.3 ± 1.5', 17.5)}

      <text transform="translate(31,462) rotate(-90)" textAnchor="middle" fontSize={20} fontFamily={FONT} fill="#000">
        NO<tspan fontSize={13} dy={5}>3</tspan>
        <tspan fontSize={13} dy={-13}>−</tspan>
        <tspan dy={8}>−N(mg/L)</tspan>
      </text>
      <text transform="translate(839,468) rotate(-90)" textAnchor="middle" fontSize={20} fontFamily={FONT} fill={BLUE}>
        Discharge (m<tspan fontSize={13} dy={-8}>3</tspan><tspan dy={8}>/s)</tspan>
      </text>
      <text transform="translate(865,76) rotate(90)" textAnchor="middle" fontSize={20} fontWeight="bold" fontFamily={FONT} fill={GRAY}>
        RF (mm/day)
      </text>
    </svg>
  )
}

export default function App() {
  return (
    <div style={{ position: 'absolute', left: 0, top: 0, width: 885, height: 940, background: '#fff', fontFamily: FONT }}>
      <TopPanel />
      <LowerPanel idx={0} no3={ccNo3} q={ccQ} areas={ccAreas} />
      <LowerPanel idx={1} no3={lhtNo3} q={lhtQ} />
      <LowerPanel idx={2} no3={mskNo3} q={mskQ} />
      <LowerPanel idx={3} no3={hzNo3} q={hzQ} pink={hzPink} />
      <Overlay />
    </div>
  )
}
